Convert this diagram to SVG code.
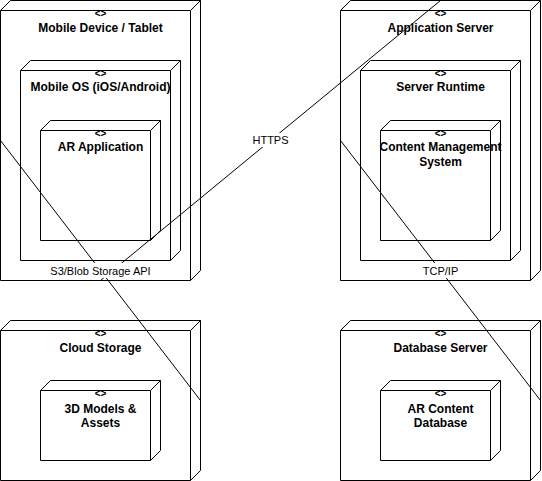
<svg xmlns="http://www.w3.org/2000/svg" width="542" height="481" viewBox="0 0 542 481">
<style>
.node{fill:#ffffff;stroke:#000000;stroke-width:1}
.edge{fill:none;stroke:#000000;stroke-width:1}
.st{font-family:"Liberation Sans",Arial,sans-serif;font-size:10px;font-weight:bold;text-anchor:middle;fill:#000}
.t{font-family:"Liberation Sans",Arial,sans-serif;font-size:12px;font-weight:bold;text-anchor:middle;fill:#000}
.lbl{font-family:"Liberation Sans",Arial,sans-serif;font-size:11px;text-anchor:middle;fill:#000}
.lbg{fill:#ffffff;stroke:none}
</style>
<g id="mobile-device">
<path class="node" d="M0.5,10.5 L10.5,0.5 L200.5,0.5 L200.5,270.5 L190.5,280.5 L0.5,280.5 Z M0.5,10.5 L190.5,10.5 L200.5,0.5 M190.5,10.5 L190.5,280.5"/>
<text class="st" x="100.5" y="17">&lt;&gt;</text>
<text class="t" x="100.5" y="31.5">Mobile Device / Tablet</text>
</g>
<g id="mobile-os">
<path class="node" d="M20.5,70.5 L30.5,60.5 L180.5,60.5 L180.5,250.5 L170.5,260.5 L20.5,260.5 Z M20.5,70.5 L170.5,70.5 L180.5,60.5 M170.5,70.5 L170.5,260.5"/>
<text class="st" x="100.5" y="76.5">&lt;&gt;</text>
<text class="t" x="100.5" y="91">Mobile OS (iOS/Android)</text>
</g>
<g id="ar-application">
<path class="node" d="M40.5,130.5 L50.5,120.5 L160.5,120.5 L160.5,230.5 L150.5,240.5 L40.5,240.5 Z M40.5,130.5 L150.5,130.5 L160.5,120.5 M150.5,130.5 L150.5,240.5"/>
<text class="st" x="100.5" y="136.5">&lt;&gt;</text>
<text class="t" x="100.5" y="151">AR Application</text>
</g>
<g id="application-server">
<path class="node" d="M340.5,10.5 L350.5,0.5 L540.5,0.5 L540.5,270.5 L530.5,280.5 L340.5,280.5 Z M340.5,10.5 L530.5,10.5 L540.5,0.5 M530.5,10.5 L530.5,280.5"/>
<text class="st" x="440.5" y="17">&lt;&gt;</text>
<text class="t" x="440.5" y="31.5">Application Server</text>
</g>
<g id="server-runtime">
<path class="node" d="M360.5,70.5 L370.5,60.5 L520.5,60.5 L520.5,250.5 L510.5,260.5 L360.5,260.5 Z M360.5,70.5 L510.5,70.5 L520.5,60.5 M510.5,70.5 L510.5,260.5"/>
<text class="st" x="440.5" y="76.5">&lt;&gt;</text>
<text class="t" x="440.5" y="91">Server Runtime</text>
</g>
<g id="cms">
<path class="node" d="M380.5,130.5 L390.5,120.5 L500.5,120.5 L500.5,230.5 L490.5,240.5 L380.5,240.5 Z M380.5,130.5 L490.5,130.5 L500.5,120.5 M490.5,130.5 L490.5,240.5"/>
<text class="st" x="440.5" y="136.5">&lt;&gt;</text>
<text class="t" x="440.5" y="151">Content Management</text>
<text class="t" x="440.5" y="165.5">System</text>
</g>
<g id="cloud-storage">
<path class="node" d="M0.5,330.5 L10.5,320.5 L200.5,320.5 L200.5,470.5 L190.5,480.5 L0.5,480.5 Z M0.5,330.5 L190.5,330.5 L200.5,320.5 M190.5,330.5 L190.5,480.5"/>
<text class="st" x="100.5" y="336.5">&lt;&gt;</text>
<text class="t" x="100.5" y="351.5">Cloud Storage</text>
</g>
<g id="models-assets">
<path class="node" d="M40.5,390.5 L50.5,380.5 L160.5,380.5 L160.5,450.5 L150.5,460.5 L40.5,460.5 Z M40.5,390.5 L150.5,390.5 L160.5,380.5 M150.5,390.5 L150.5,460.5"/>
<text class="st" x="100.5" y="396.5">&lt;&gt;</text>
<text class="t" x="100.5" y="412.5">3D Models &amp;</text>
<text class="t" x="100.5" y="427">Assets</text>
</g>
<g id="database-server">
<path class="node" d="M340.5,330.5 L350.5,320.5 L540.5,320.5 L540.5,470.5 L530.5,480.5 L340.5,480.5 Z M340.5,330.5 L530.5,330.5 L540.5,320.5 M530.5,330.5 L530.5,480.5"/>
<text class="st" x="440.5" y="336.5">&lt;&gt;</text>
<text class="t" x="440.5" y="351.5">Database Server</text>
</g>
<g id="ar-content-db">
<path class="node" d="M380.5,390.5 L390.5,380.5 L500.5,380.5 L500.5,450.5 L490.5,460.5 L380.5,460.5 Z M380.5,390.5 L490.5,390.5 L500.5,380.5 M490.5,390.5 L490.5,460.5"/>
<text class="st" x="440.5" y="396.5">&lt;&gt;</text>
<text class="t" x="440.5" y="412.5">AR Content</text>
<text class="t" x="440.5" y="427">Database</text>
</g>
<g id="connectors">
<line class="edge" x1="100.5" y1="280.5" x2="440.5" y2="0.5"/>
<line class="edge" x1="0.5" y1="140.5" x2="200.5" y2="400.5"/>
<line class="edge" x1="340.5" y1="140.5" x2="540.5" y2="400.5"/>
<rect class="lbg" x="252" y="133" width="37" height="14"/>
<text class="lbl" x="270.5" y="144">HTTPS</text>
<rect class="lbg" x="48" y="263" width="105" height="15"/>
<text class="lbl" x="100.5" y="274.5">S3/Blob Storage API</text>
<rect class="lbg" x="420" y="263" width="41" height="15"/>
<text class="lbl" x="440.5" y="274.5">TCP/IP</text>
</g>
</svg>
